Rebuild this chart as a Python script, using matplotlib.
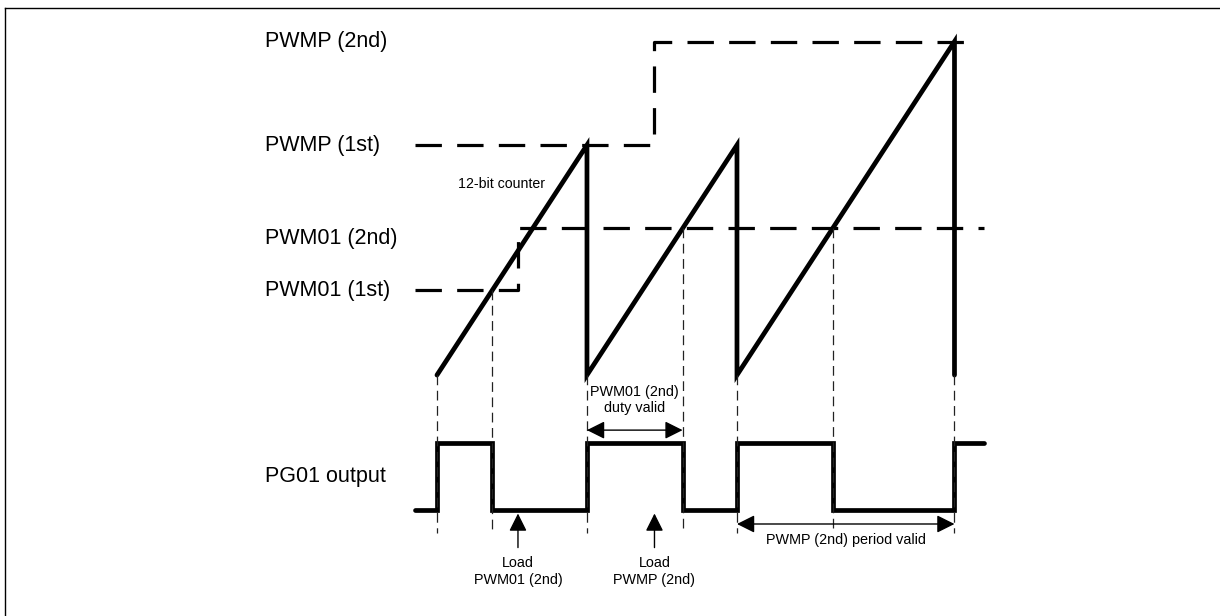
import matplotlib.pyplot as plt
from matplotlib.lines import Line2D

plt.rcParams['font.family'] = ['Liberation Sans', 'DejaVu Sans']
plt.rcParams['lines.scale_dashes'] = False

# counter slope (counts per period unit) and register values
slope = 1600
pwmp_vals = [1600, 2320]        # PWMP 1st, 2nd
pwm01_vals = [590, 1020]        # PWM01 1st, 2nd
load_pwm01_t = 0.54             # write time of PWM01 (2nd)
load_pwmp_t = 1.45              # write time of PWMP (2nd)
t_start, t_end = -0.147, 3.65

# period start times, period top and duty register in use
periods = [(0.0, pwmp_vals[0], pwm01_vals[0]),
           (1.0, pwmp_vals[0], pwm01_vals[1]),
           (2.0, pwmp_vals[1], pwm01_vals[1])]

level_labels = ['PWMP (2nd)', 'PWMP (1st)', 'PWM01 (2nd)', 'PWM01 (1st)']
level_values = [pwmp_vals[1], pwmp_vals[0], pwm01_vals[1], pwm01_vals[0]]

fig = plt.figure(figsize=(12.2, 6.16), dpi=100)
ax = fig.add_axes([0, 0, 1, 1])
ax.set_xlim(-2.913, 5.22)
ax.set_ylim(-1676, 2609)
ax.axis('off')

# layout of the output trace (in counter units)
pg_low, pg_high = -939, -473
guide_bottom = -1099
lw_thick = 3.4
lw_dash = 2.3
dash = (0, (19, 11))

# ---- counter sawtooth
cx, cy = [], []
for t0, top, duty in periods:
    t1 = t0 + top / slope
    cx += [t0, t1, t1]
    cy += [0, top, 0]
ax.plot(cx, cy, color='black', lw=lw_thick, solid_capstyle='round', solid_joinstyle='miter')

# ---- register levels (dashed)
ax.plot([t_start, load_pwmp_t, load_pwmp_t, periods[2][0] + pwmp_vals[1] / slope + 0.12],
        [pwmp_vals[0], pwmp_vals[0], pwmp_vals[1], pwmp_vals[1]],
        color='black', lw=lw_dash, linestyle=dash)
ax.plot([t_start, load_pwm01_t, load_pwm01_t, t_end],
        [pwm01_vals[0], pwm01_vals[0], pwm01_vals[1], pwm01_vals[1]],
        color='black', lw=lw_dash, linestyle=dash)

# ---- PG01 output and guide lines
px, py = [t_start], [pg_low]
guides = []
for t0, top, duty in periods:
    tc = t0 + duty / slope
    px += [t0, t0, tc, tc]
    py += [pg_low, pg_high, pg_high, pg_low]
    guides += [(t0, 0), (tc, duty)]
t_last = periods[2][0] + pwmp_vals[1] / slope
px += [t_last, t_last, t_end]
py += [pg_low, pg_high, pg_high]
guides.append((t_last, 0))
ax.plot(px, py, color='black', lw=lw_thick, solid_capstyle='round', solid_joinstyle='miter')

for gx, gy in guides:
    ax.plot([gx, gx], [gy, guide_bottom], color='#222222', lw=0.9, linestyle=(0, (7, 4)))

# ---- level labels
for lab, val in zip(level_labels, level_values):
    off = -70 if lab == 'PWM01 (2nd)' else 0
    ax.text(-1.147, val + off, lab, fontsize=15.5, va='center', ha='left')
ax.text(-1.147, (pg_low + pg_high) / 2, 'PG01 output', fontsize=15.5, va='center', ha='left')

ax.text(0.14, 1330, '12-bit counter', fontsize=10.2, ha='left', va='center')

# ---- annotations
arrow = dict(arrowstyle='<|-|>,head_length=0.8,head_width=0.4', color='black', lw=1.0,
             mutation_scale=13.5, shrinkA=0, shrinkB=0)
d0 = periods[1][0]
d1 = periods[1][0] + pwm01_vals[1] / slope
ax.annotate('', xy=(d0, -383), xytext=(d1, -383), arrowprops=arrow)
ax.text((d0 + d1) / 2, -172, 'PWM01 (2nd)\nduty valid', fontsize=10.4, ha='center', va='center',
        linespacing=1.2)

p0 = periods[2][0]
p1 = t_last
ax.annotate('', xy=(p0, -1036), xytext=(p1, -1036), arrowprops=arrow)
ax.text((p0 + p1) / 2, -1150, 'PWMP (2nd) period valid', fontsize=10.4, ha='center', va='center')

up = dict(arrowstyle='-|>,head_length=0.8,head_width=0.4', color='black', lw=1.0,
          mutation_scale=13.5, shrinkA=0, shrinkB=0)
for lt, txt in [(load_pwm01_t, 'Load\nPWM01 (2nd)'), (load_pwmp_t, 'Load\nPWMP (2nd)')]:
    ax.annotate('', xy=(lt, -963), xytext=(lt, -1200), arrowprops=up)
    ax.text(lt, -1367, txt, fontsize=10.4, ha='center', va='center', linespacing=1.2)

# partial frame (top and left edges)
fig.add_artist(Line2D([5 / 1220, 1.0], [1 - 8 / 616, 1 - 8 / 616], transform=fig.transFigure,
                      color='black', lw=1.0))
fig.add_artist(Line2D([5 / 1220, 5 / 1220], [0.0, 1 - 8 / 616], transform=fig.transFigure,
                      color='black', lw=1.0))

fig.savefig('out.png', dpi=100, facecolor='white')
